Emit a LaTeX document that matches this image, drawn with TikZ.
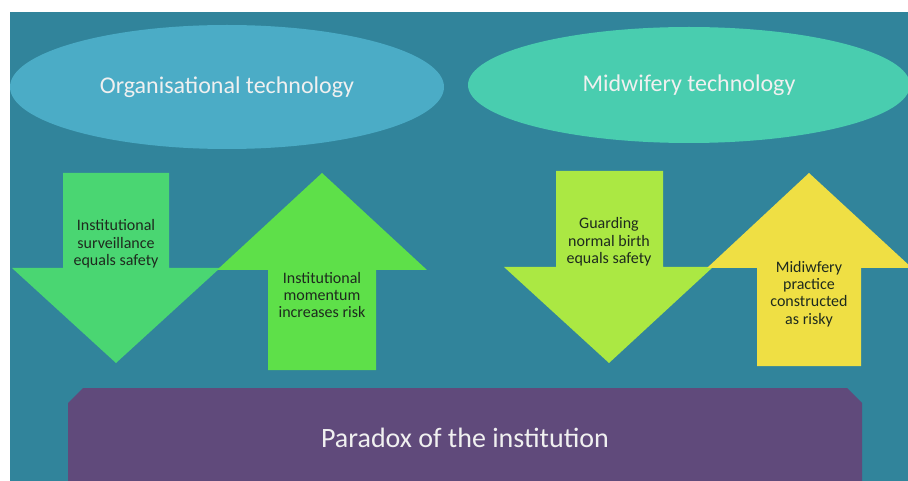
\documentclass[tikz,border=0pt]{standalone}
\usepackage{fontspec}
\setmainfont{Carlito}
\usetikzlibrary{shapes.geometric}
\definecolor{slideteal}{HTML}{31849B}
\definecolor{orgblue}{HTML}{4BACC6}
\definecolor{midgreen}{HTML}{49CDAF}
\definecolor{survgreen}{HTML}{4AD672}
\definecolor{momgreen}{HTML}{5EE049}
\definecolor{guardlime}{HTML}{ABE843}
\definecolor{riskyellow}{HTML}{EFDF44}
\definecolor{paradoxpurple}{HTML}{604A7B}
\definecolor{arrowtext}{HTML}{1E2A1E}
\tikzset{
  techoval/.style={ellipse, inner sep=0pt, text=white!94!black,
    font=\fontsize{24}{28}\selectfont},
  arrowlabel/.style={align=center, text=arrowtext,
    font=\fontsize{16}{17.3}\selectfont},
}
\begin{document}
\begin{tikzpicture}[x=1pt,y=-1pt]
  \useasboundingbox (0,0) rectangle (908,481);
  \fill[white] (0,0) rectangle (908,481);
  \fill[slideteal] (10,12) rectangle (908,481);
  % the two technologies
  \node[techoval, fill=orgblue, minimum width=434pt, minimum height=124pt]
    (orgtech) at (227,87) {Organisational technology};
  \node[techoval, fill=midgreen, minimum width=442pt, minimum height=116pt]
    (midtech) at (689,85) {Midwifery technology};
  % block arrows
  \fill[survgreen] (63,173) -- (169,173) -- (169,268) -- (220,268)
    -- (116,363) -- (12,268) -- (63,268) -- cycle;
  \fill[momgreen] (322,173) -- (427,270) -- (376,270) -- (376,370)
    -- (268,370) -- (268,270) -- (217,270) -- cycle;
  \fill[guardlime] (556,171) -- (663,171) -- (663,267) -- (713,267)
    -- (609,363) -- (504,267) -- (556,267) -- cycle;
  \fill[riskyellow] (809,173) -- (912,268) -- (861,268) -- (861,366)
    -- (757,366) -- (757,268) -- (707,268) -- cycle;
  \node[arrowlabel] (surv) at (116,244)
    {Institutional\\surveillance\\equals safety};
  \node[arrowlabel] (momentum) at (322,295)
    {Institutional\\momentum\\increases risk};
  \node[arrowlabel] (guard) at (609,242)
    {Guarding\\normal birth\\equals safety};
  \node[arrowlabel] (risky) at (809,294)
    {Midiwfery\\practice\\constructed\\as risky};
  % the institution
  \fill[paradoxpurple] (68,403) -- (83,388) -- (847,388) -- (862,403)
    -- (862,481) -- (68,481) -- cycle;
  \node[text=white!94!black, font=\fontsize{28}{32}\selectfont]
    (paradox) at (465,438) {Paradox of the institution};
\end{tikzpicture}
\end{document}
